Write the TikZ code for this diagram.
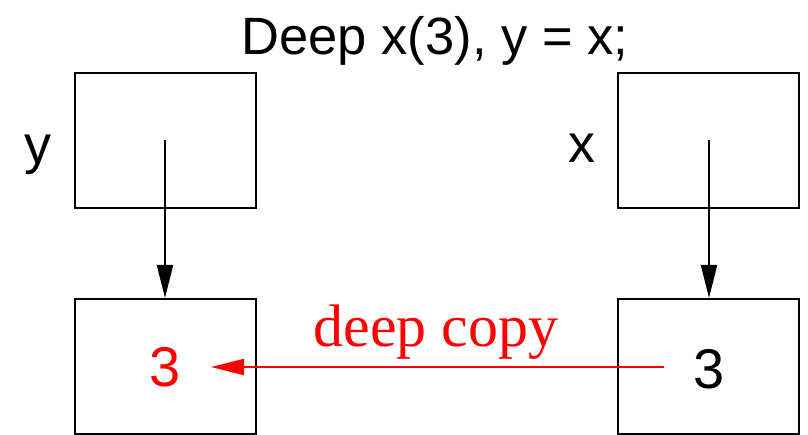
\documentclass[tikz,border=0pt]{standalone}
\usepackage{fontspec}
\setmainfont{Liberation Serif}
\setsansfont{Liberation Sans}
\usetikzlibrary{arrows.meta}
\begin{document}
\begin{tikzpicture}[x=1pt,y=-1pt,
  cell/.style={draw,line width=2pt,minimum width=181pt,minimum height=135pt,inner sep=0pt,anchor=north west},
  lbl/.style={font=\sffamily\fontsize{54}{60}\selectfont,inner sep=0pt,anchor=base},
  num/.style={font=\sffamily\fontsize{56}{60}\selectfont,inner sep=0pt,anchor=base},
  ptr/.style={line width=2pt,-{Triangle[length=33pt,width=16pt]}}]
\useasboundingbox (0,0) rectangle (808,435);
\node[lbl,font=\sffamily\fontsize{52.5}{60}\selectfont] (title) at (435,55) {Deep x(3), y = x;};
\node[cell] (ytop) at (74,72) {};
\node[cell] (xtop) at (617,72) {};
\node[cell] (ybot) at (74,298) {};
\node[cell] (xbot) at (617,298) {};
\node[lbl] (ylab) at (38,164) {y};
\node[lbl] (xlab) at (582,163) {x};
\node[num,text=red] (y3) at (165,386) {3};
\node[num] (x3) at (709,388) {3};
\node[font=\fontsize{60}{64}\selectfont,text=red,inner sep=0pt,anchor=base] (dc) at (436,346) {deep copy};
\coordinate (ys) at (165,140);
\coordinate (xs) at (709,140);
\coordinate (cs) at (664,367);
\coordinate (ce) at (211,367);
\draw[ptr] (ys) -- (ys |- ybot.north);
\draw[ptr] (xs) -- (xs |- xbot.north);
\draw[ptr,red] (cs) -- (ce);
\end{tikzpicture}
\end{document}
